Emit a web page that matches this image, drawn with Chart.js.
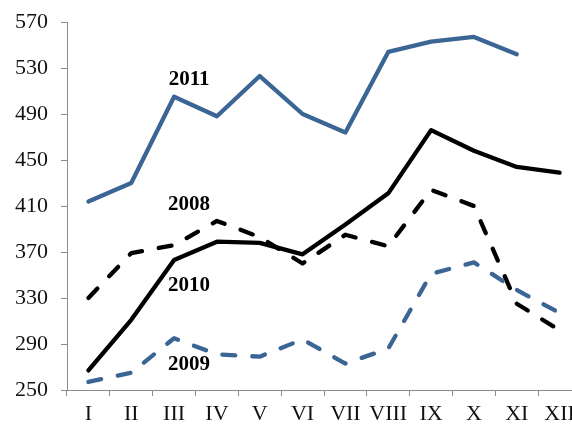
<!DOCTYPE html>
<html>
<head>
<meta charset="utf-8">
<script src="https://cdn.jsdelivr.net/npm/chart.js@4/dist/chart.umd.min.js"></script>
<style>
  html, body { margin: 0; padding: 0; background: #fff; overflow: hidden; }
  #wrap { width: 600px; height: 427px; }
</style>
</head>
<body>
<div id="wrap"><canvas id="chart" width="600" height="427"></canvas></div>
<script>
    // months, roman numerals
    const months = ['I', 'II', 'III', 'IV', 'V', 'VI', 'VII', 'VIII', 'IX', 'X', 'XI', 'XII'];

    // values
    const values2011 = [414, 430, 505, 488, 523, 490, 474, 544, 553, 557, 542, null];
    const values2010 = [267, 311, 363, 379, 378, 368, 394, 421, 476, 458, 444, 439];
    const values2008 = [330, 369, 376, 397, 383, 360, 385, 375, 424, 410, 325, 302];
    const values2009 = [257, 265, 295, 281, 279, 294, 273, 286, 351, 361, 337, 317];

    const yTicks = [250, 290, 330, 370, 410, 450, 490, 530, 570];

    const blue = '#3A6595';
    const axisGrey = '#8c8c8c';
    const serif = "'Liberation Serif', 'DejaVu Serif', serif";

    // series names written next to the lines (category index, value)
    const seriesLabels = [
        { text: '2011', x: 2.35, y: 520 },
        { text: '2008', x: 2.35, y: 411 },
        { text: '2010', x: 2.35, y: 341 },
        { text: '2009', x: 2.35, y: 272 }
    ];

    const labelPlugin = {
        id: 'seriesLabels',
        afterDatasetsDraw(chart) {
            const ctx = chart.ctx;
            const xs = chart.scales.x, ys = chart.scales.y;
            ctx.save();
            ctx.font = 'bold 21px ' + serif;
            ctx.fillStyle = '#000';
            ctx.textAlign = 'center';
            ctx.textBaseline = 'middle';
            seriesLabels.forEach(function(l) {
                const i = Math.floor(l.x);
                const px = xs.getPixelForValue(i) + (l.x - i) * (xs.getPixelForValue(i + 1) - xs.getPixelForValue(i));
                ctx.fillText(l.text, px, ys.getPixelForValue(l.y));
            });
            ctx.restore();
        }
    };

    function lineSet(label, data, color, dashed) {
        return {
            label: label,
            data: data,
            borderColor: color,
            borderWidth: 4.3,
            borderDash: dashed ? [13, 17] : [],
            borderCapStyle: 'round',
            borderJoinStyle: 'round',
            pointRadius: 0,
            tension: 0,
            fill: false,
            spanGaps: false
        };
    }

    new Chart(document.getElementById('chart').getContext('2d'), {
        type: 'line',
        data: {
            labels: months,
            datasets: [
                lineSet('2011', values2011, blue, false),
                lineSet('2010', values2010, '#000', false),
                lineSet('2009', values2009, blue, true),
                lineSet('2008', values2008, '#000', true)
            ]
        },
        options: {
            responsive: false,
            animation: false,
            layout: { padding: { top: 22, right: 19, left: 0, bottom: 0 } },
            plugins: { legend: { display: false }, tooltip: { enabled: false } },
            scales: {
                x: {
                    offset: true,
                    grid: { offset: true, drawOnChartArea: false, drawTicks: true, tickLength: 6, color: axisGrey },
                    border: { color: axisGrey, width: 1 },
                    ticks: { color: '#111', font: { family: serif, size: 22 }, padding: 5, maxRotation: 0, autoSkip: false },
                    afterFit(scale) { scale.height = 37; scale.paddingLeft = 0; scale.paddingRight = 0; }
                },
                y: {
                    min: 250,
                    max: 570,
                    afterBuildTicks(scale) { scale.ticks = yTicks.map(v => ({ value: v })); },
                    grid: { drawOnChartArea: false, drawTicks: true, tickLength: 6, color: axisGrey },
                    border: { color: axisGrey, width: 1 },
                    ticks: { color: '#111', font: { family: serif, size: 22 }, padding: 13 },
                    afterFit(scale) { scale.width = 67; scale.paddingTop = 0; scale.paddingBottom = 0; }
                }
            }
        },
        plugins: [labelPlugin]
    });
</script>
</body>
</html>
